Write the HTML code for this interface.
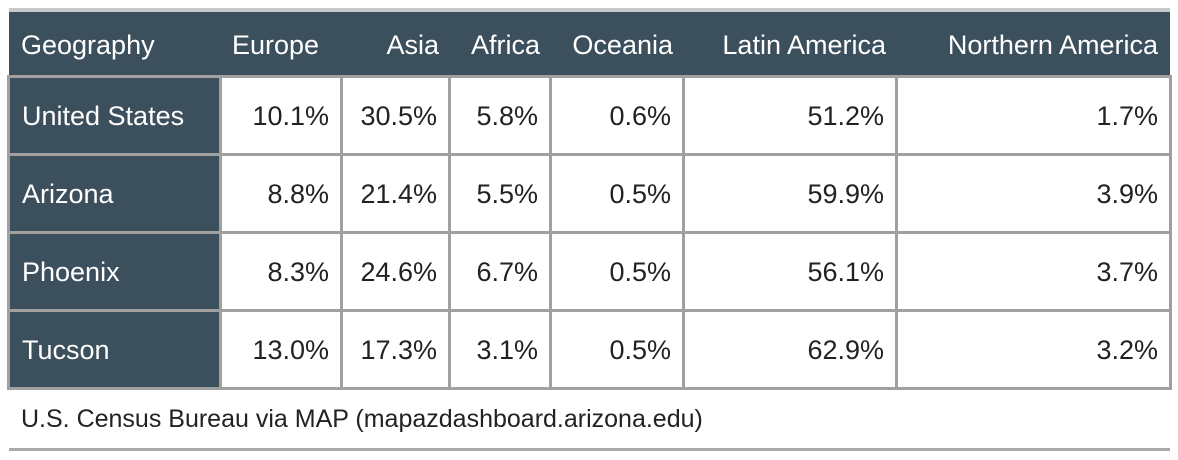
<!DOCTYPE html>
<html><head><meta charset="utf-8"><style>
body{margin:0;width:1178px;height:460px;background:#fff;position:relative;overflow:hidden;font-family:"Liberation Sans",sans-serif;}
.a{position:absolute;}
.hl{position:absolute;background:#a0a0a0;}
.c{position:absolute;font-size:27px;line-height:27px;color:#222;white-space:nowrap;}
.h{color:#fff;}
</style></head><body>
<div class="hl" style="left:9px;top:8px;width:1161px;height:4px;background:#c8c8c8"></div>
<div class="a" style="left:9px;top:12px;width:1161px;height:65px;background:#3c4f5d"></div>
<div class="a" style="left:9px;top:77px;width:211px;height:312px;background:#3c4f5d"></div>
<div id="t"></div>
<div class="c" style="left:21px;top:406px;font-size:25px;">U.S. Census Bureau via MAP (mapazdashboard.arizona.edu)</div>
<div class="hl" style="left:9px;top:448px;width:1161px;height:3px;background:#aaa"></div>
<script>
const headers=["Geography","Europe","Asia","Africa","Oceania","Latin America","Northern America"];
const rows=["United States","Arizona","Phoenix","Tucson"];
const europe=["10.1%","8.8%","8.3%","13.0%"];
const asia=["30.5%","21.4%","24.6%","17.3%"];
const africa=["5.8%","5.5%","6.7%","3.1%"];
const oceania=["0.6%","0.5%","0.5%","0.5%"];
const latin=["51.2%","59.9%","56.1%","62.9%"];
const northern=["1.7%","3.9%","3.7%","3.2%"];
const cols=[europe,asia,africa,oceania,latin,northern];
const xs=[8,220,341,449,550,683,896,1170];
const ys=[77,155,233,311,389];
const t=document.getElementById('t');
function mk(cls,style,txt){const d=document.createElement('div');d.className=cls;d.style.cssText=style;if(txt!==undefined)d.textContent=txt;t.appendChild(d);return d;}
headers.forEach((h,i)=>{
 let st=i==0?`left:${xs[0]+13}px;top:32px;`:`right:${1178-xs[i+1]+(i==6?12:10)}px;top:32px;`;
 if(i==1) st=`left:${xs[1]+12}px;top:32px;`;
 const d=mk('c h',st,h);
 
 
});
rows.forEach((r,ri)=>{
 const ty=ys[ri]+26;
 const d=mk('c h',`left:${xs[0]+14}px;top:${ty}px;`,r);
 
 
 cols.forEach((col,ci)=>{
  const e=mk('c',`right:${1178-xs[ci+2]+12}px;top:${ty}px;`,col[ri]);
  
  
 });
});
ys.forEach((y,i)=>{
 const l=mk('hl',`left:${xs[0]-1}px;top:${y-2}px;width:${xs[7]-xs[0]+2}px;height:3px;`);
 
 
});
xs.forEach((x,i)=>{
 const l=mk('hl',`left:${x-1}px;top:${ys[0]-2}px;width:3px;height:${ys[4]-ys[0]+3}px;`);
 
 
});
</script>
</body></html>
